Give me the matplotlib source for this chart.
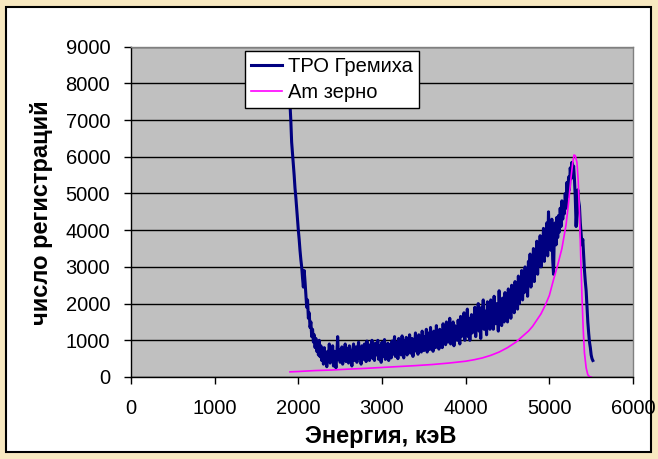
import matplotlib.pyplot as plt
import numpy as np
from matplotlib.patches import Rectangle

# ТРО Гремиха: counts per 10 keV channel, starting at 1900 keV (one row = 200 keV)
tro_start = 1900
tro_step = 10
tro_counts = [
    7450, 7000, 6400, 6100, 5800, 5500, 5150, 4900, 4600, 4300, 4000, 3750, 3450, 3200, 3000, 2700, 2450, 2900, 2600, 2250,
    1900, 2100, 1600, 1750, 1350, 1500, 1100, 1300, 950, 1150, 800, 1050, 700, 900, 600, 1000, 550, 850, 450, 750,
    350, 800, 500, 650, 280, 700, 450, 900, 380, 600, 520, 850, 300, 700, 450, 250, 620, 1100, 480, 750,
    400, 650, 820, 350, 700, 500, 900, 420, 600, 780, 380, 850, 520, 650, 300, 750, 900, 450, 620, 820,
    400, 700, 950, 520, 780, 350, 850, 600, 480, 900, 700, 420, 980, 560, 750, 450, 880, 620, 1000, 500,
    780, 450, 920, 600, 720, 1000, 480, 850, 650, 400, 950, 700, 560, 1020, 480, 820, 600, 920, 450, 880,
    700, 520, 980, 620, 850, 1100, 560, 780, 950, 500, 1050, 680, 820, 600, 1120, 720, 520, 980, 800, 1080,
    600, 950, 750, 1150, 650, 880, 1050, 560, 1000, 820, 1200, 700, 950, 620, 1150, 850, 1000, 680, 1250, 900,
    720, 1100, 850, 1300, 680, 1200, 950, 750, 1350, 880, 1150, 700, 1250, 1000, 800, 1400, 900, 1150, 760, 1300,
    950, 1200, 800, 1450, 1050, 1300, 880, 1500, 1100, 950, 1350, 1600, 900, 1250, 1050, 1500, 850, 1400, 1150, 1300,
    1000, 1550, 1200, 900, 1650, 1100, 1400, 1250, 1750, 1000, 1500, 1300, 1850, 1100, 1600, 1000, 1450, 1700, 1200, 1550,
    1350, 1900, 1100, 1700, 1450, 2000, 1250, 1650, 1050, 1900, 1500, 2100, 1300, 1800, 1550, 1150, 2050, 1600, 1850, 1300,
    2100, 1500, 1900, 1300, 2200, 1700, 1450, 2000, 1800, 1250, 2350, 1600, 1950, 1400, 2150, 1800, 1500, 2300, 1650, 2050,
    1500, 2400, 1800, 2200, 1600, 2500, 1900, 2300, 1750, 2600, 2100, 2450, 1850, 2750, 2000, 2600, 2250, 2900, 2100, 2700,
    2300, 3000, 2500, 2800, 2200, 3150, 2700, 3350, 2450, 3100, 2850, 3500, 2600, 3300, 3000, 3700, 2800, 3550, 3100, 3850,
    3000, 3700, 3300, 4050, 3150, 3850, 3500, 4200, 3300, 4500, 3700, 4100, 3450, 4300, 3200, 2800, 3900, 4200, 3600, 4350,
    3800, 4400, 3950, 4600, 4100, 4800, 4300, 4600, 4450, 5000, 4600, 5300, 4900, 5450, 5100, 5700, 5400, 5850, 5500, 5750,
    5400, 4900, 4100, 4600, 5100, 4800, 4650, 4200, 3900, 3600, 3750, 3300, 2900, 2600, 2350, 1900, 1500, 1200, 950, 800,
    600, 500, 450,
]
tro_energy = tro_start + tro_step * np.arange(len(tro_counts))

# Am зерно reference spectrum
am_energy = [1900, 2000, 2200, 2400, 2600, 2800, 3000, 3200, 3400, 3600,
             3800, 4000, 4100, 4200, 4300, 4400, 4500, 4600, 4700, 4750,
             4800, 4850, 4900, 4950, 5000, 5050, 5100, 5150, 5200, 5230,
             5260, 5280, 5295, 5310, 5330, 5345, 5360, 5375, 5390, 5405,
             5420, 5440, 5460, 5480, 5500]
am_counts = [140, 150, 175, 190, 215, 235, 260, 285, 310, 340,
             380, 430, 470, 520, 590, 680, 800, 950, 1150, 1250,
             1380, 1550, 1720, 1950, 2220, 2650, 3050, 3500, 4150, 4750,
             5450, 5850, 6050, 6030, 5850, 5350, 4500, 3300, 2200, 1300,
             650, 250, 60, 10, 0]

x_ticks = [0, 1000, 2000, 3000, 4000, 5000, 6000]
y_ticks = [0, 1000, 2000, 3000, 4000, 5000, 6000, 7000, 8000, 9000]

W, H = 658, 459
plt.rcParams['font.family'] = ['Liberation Sans', 'DejaVu Sans']

fig = plt.figure(figsize=(W / 100, H / 100), dpi=100)
fig.patch.set_facecolor('#f7e8c0')
fig.add_artist(Rectangle((6 / W, 7 / H), 645 / W, 445 / H, transform=fig.transFigure,
                         facecolor='white', edgecolor='black', linewidth=1.5, zorder=0))

ax = fig.add_axes([131 / W, (H - 377) / H, 502 / W, 330.3 / H])
ax.set_facecolor('#c0c0c0')
ax.set_xlim(0, 6000)
ax.set_ylim(0, 9000)
ax.set_xticks(x_ticks)
ax.set_yticks(y_ticks)
ax.yaxis.grid(True, color='black', linewidth=1.0)
ax.set_axisbelow(True)

ax.plot(tro_energy, tro_counts, color='#000080', linewidth=2.2, label='ТРО Гремиха')
ax.plot(am_energy, am_counts, color='#ff00ff', linewidth=1.2, label='Am зерно')

for side in ('top', 'right'):
    ax.spines[side].set_color('#808080')
    ax.spines[side].set_linewidth(1.0)
for side in ('left', 'bottom'):
    ax.spines[side].set_color('black')
    ax.spines[side].set_linewidth(1.0)

ax.tick_params(axis='both', direction='out', length=5, width=1.0, labelsize=14.5, colors='black')
ax.tick_params(axis='y', pad=10)
ax.tick_params(axis='x', pad=11)

leg = ax.legend(loc='upper left', bbox_to_anchor=((245 - 131) / 502, (377 - 51) / 330.3),
                fontsize=14.5, frameon=True, fancybox=False, shadow=False,
                borderpad=0.3, handlelength=1.55, handletextpad=0.3,
                labelspacing=0.35, borderaxespad=0.0)
leg.get_frame().set_edgecolor('black')
leg.get_frame().set_linewidth(1.0)
leg.get_frame().set_facecolor('white')
leg.get_frame().set_alpha(1.0)

fig.text(381 / W, 1 - 437 / H, 'Энергия, кэВ', ha='center', va='center',
         fontsize=17, fontweight='bold')
fig.text(42 / W, 1 - 213 / H, 'число регистраций', ha='center', va='center',
         rotation=90, fontsize=17, fontweight='bold')

fig.savefig('out.png', dpi=100, facecolor=fig.get_facecolor())
